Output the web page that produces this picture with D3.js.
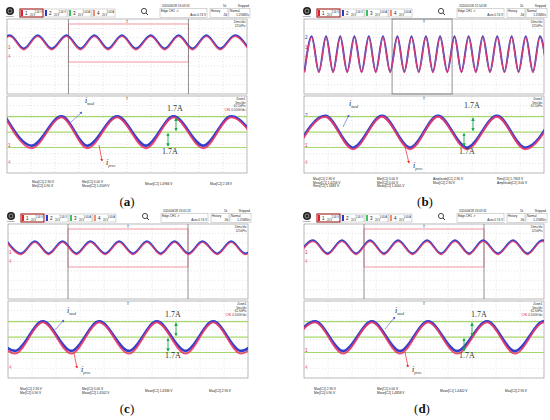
<!DOCTYPE html>
<html><head><meta charset="utf-8">
<script src="https://cdn.jsdelivr.net/npm/d3@7"></script>
<style>body{margin:0;background:#fff}svg{display:block}</style>
</head><body>
<svg id="chart" width="550" height="420"></svg>
<script>
// ---------------- DATA (time in divisions, 0..10) ----------------
const panelLetters = ["a", "b", "c", "d"];
const dateLabels = ["2020/06/28 19:03:53", "2020/01/09 21:54:58", "2020/06/28 19:02:23", "2020/06/28 19:03:32"];
const channelLabels = ["2.00 V", "2.00 V", "5.00 A", "5.00 A"];

// top (overview) window: times of peaks / troughs
const topPeaksA   = [0.12, 1.28, 2.48, 3.64, 4.79, 5.99, 7.15, 8.31, 9.50];
const topTroughsA = [-0.46, 0.70, 1.86, 3.06, 4.21, 5.37, 6.57, 7.73, 8.88, 10.07];
const topPeaksB   = [0.32, 0.92, 1.51, 2.10, 2.70, 3.29, 3.89, 4.48, 5.08, 5.67, 6.27, 6.86, 7.45, 8.05, 8.65, 9.24, 9.83];
const topTroughsB = [0.02, 0.62, 1.21, 1.80, 2.40, 2.99, 3.59, 4.18, 4.78, 5.37, 5.97, 6.56, 7.16, 7.75, 8.35, 8.94, 9.54, 10.13];
const topPeaksC   = [-0.05, 1.12, 2.27, 3.43, 4.63, 5.79, 6.94, 8.10, 9.30, 10.45];
const topTroughsC = [0.54, 1.69, 2.85, 4.05, 5.21, 6.36, 7.52, 8.72, 9.88];
const topPeaksD   = [0.38, 1.58, 2.75, 3.92, 5.13, 6.29, 7.46, 8.71, 9.92];
const topTroughsD = [-0.20, 0.98, 2.17, 3.33, 4.52, 5.71, 6.88, 8.08, 9.31, 10.50];
// top window levels in divisions: [peak, trough]
const topBlueA = [2.27, 0.86], topRedA = [2.15, 0.72];
const topBlueB = [2.16, -1.62], topRedB = [2.05, -1.72];
const topBlueC = [2.16, 0.86], topRedC = [2.05, 0.74];
const topBlueD = [2.27, 0.86], topRedD = [2.15, 0.74];

// bottom (zoom) window: times of peaks / troughs
const botPeaksA   = [-0.08, 2.27, 4.59, 6.94, 9.34];
const botTroughsA = [1.03, 3.35, 5.79, 8.18, 10.54];
const botPeaksB   = [0.88, 3.25, 5.58, 8.04, 10.40];
const botTroughsB = [-0.30, 2.04, 4.42, 6.79, 9.21];
const botPeaksC   = [-0.87, 1.45, 3.80, 6.20, 8.55, 10.90];
const botTroughsC = [0.29, 2.64, 5.04, 7.40, 9.71];
const botPeaksD   = [0.46, 2.83, 5.17, 7.63, 10.00];
const botTroughsD = [-0.71, 1.63, 4.00, 6.38, 8.79, 11.2];
// bottom window levels in amperes: [peak, trough]
const botBlueA = [1.72, -1.50], botRedA = [1.62, -1.78];
const botBlueB = [1.78, -1.72], botRedB = [1.68, -1.90];
const botBlueC = [1.72, -1.52], botRedC = [1.62, -1.82];
const botBlueD = [1.72, -1.55], botRedD = [1.62, -1.82];
const bandLevels = [1.7, 0, -1.7];
const bandLabel = "1.7A";

// measurement read-outs under each screen
const measA = [["Max[C1]  2.90 V", "Min[C2]  0.90 V"], ["Min[C1]  0.00 V", "Mean[C2]  1.4509 V"], ["Mean[C1]  1.4966 V"], ["Max[C2]  2.58 V"]];
const measB = [["Max[C1]  2.90 V", "Mean[C1]  1.4256 V", "Rms[C2]  1.5683 V"], ["Min[C1]  0.00 V", "Min[C2]  0.00 V", "Mean[C2]  1.4001 V"], ["Amplitude[C1]  2.90 V", "Max[C2]  2.90 V"], ["Rms[C1]  1.7303 V", "Amplitude[C2]  3.00 V"]];
const measC = [["Max[C1]  2.90 V", "Min[C2]  0.90 V"], ["Min[C1]  0.00 V", "Mean[C2]  1.4502 V"], ["Mean[C1]  1.4336 V"], ["Max[C2]  2.90 V"]];
const measD = [["Max[C1]  2.90 V", "Min[C2]  0.90 V"], ["Min[C1]  0.00 V", "Mean[C2]  1.4858 V"], ["Mean[C1]  1.4402 V"], ["Max[C2]  2.90 V"]];

// ---------------- LAYOUT ----------------
const svg = d3.select("#chart");
const W = 240, TOP_H = 75, BOT_Y = 77, SCR_H = 154;
const layout = [
  {ox: 7,   oy: 19,  zoom: [2.56, 7.56], zoomRect: true,  measX: [25, 75, 138, 203], measY: [164, 168], labelX: 127, labelY: 206,
   mod: [[85, 103], [82, 112], [70, 123]], pros: [[99, 145], [102, 161], [106, 165]], arr: [[176, 168]], t1: [175, 111], t2: [170, 154]},
  {ox: 304, oy: 19,  zoom: [3.67, 6.17], zoomRect: false, measX: [9, 73, 129, 193], measY: [161, 164.5, 168], labelX: 425, labelY: 206,
   mod: [[349, 106], [349, 115], [343, 127]], pros: [[405, 147], [409, 163], [413, 168]], arr: [[473, 464]], t1: [472, 108], t2: [467, 154]},
  {ox: 8,   oy: 224, zoom: [2.5, 7.5],  zoomRect: true,  measX: [12, 74, 137, 201], measY: [166, 170], labelX: 127, labelY: 413,
   mod: [[67, 313], [64, 320], [54, 331]], pros: [[74, 353], [77, 368], [81, 372]], arr: [[176, 168]], t1: [173, 317], t2: [173, 358]},
  {ox: 304, oy: 224, zoom: [2.5, 7.5],  zoomRect: true,  measX: [10, 73, 136, 201], measY: [166, 170], labelX: 422, labelY: 413,
   mod: [[395, 313], [395, 317], [385, 329]], pros: [[405, 352], [408, 367], [412, 372]], arr: [[472, 464]], t1: [479, 317], t2: [467, 358]}
];
const topData = [[topPeaksA, topTroughsA, topBlueA, topRedA], [topPeaksB, topTroughsB, topBlueB, topRedB],
                 [topPeaksC, topTroughsC, topBlueC, topRedC], [topPeaksD, topTroughsD, topBlueD, topRedD]];
const botData = [[botPeaksA, botTroughsA, botBlueA, botRedA], [botPeaksB, botTroughsB, botBlueB, botRedB],
                 [botPeaksC, botTroughsC, botBlueC, botRedC], [botPeaksD, botTroughsD, botBlueD, botRedD]];
const meas = [measA, measB, measC, measD];

const defs = svg.append("defs");
function marker(id, color) {
  defs.append("marker").attr("id", id).attr("viewBox", "0 0 10 10").attr("refX", 8).attr("refY", 5)
    .attr("markerWidth", 4).attr("markerHeight", 4).attr("orient", "auto-start-reverse")
    .append("path").attr("d", "M0,0L10,5L0,10z").attr("fill", color);
}
marker("ab", "#5060d0"); marker("ar", "#ee2020"); marker("ag", "#1aa84a");

const tiny = "Liberation Sans, Arial, sans-serif";
const serif = "Liberation Serif, Times New Roman, serif";

function extremes(peaks, troughs, lv) {
  return peaks.map(t => [t, lv[0]]).concat(troughs.map(t => [t, lv[1]])).sort((p, q) => p[0] - q[0]);
}

layout.forEach((L, i) => {
  const g = svg.append("g");
  const ox = L.ox, oy = L.oy;
  const x = d3.scaleLinear([0, 10], [ox, ox + W]);
  const yTop = d3.scaleLinear([-4, 4], [oy + TOP_H, oy]);
  const yBot = d3.scaleLinear([-4.5, 3.85], [oy + SCR_H, oy + BOT_Y + 1]);

  // ---- header ----
  g.append("circle").attr("cx", ox + 3).attr("cy", oy - 8).attr("r", 4).attr("fill", "#222");
  g.append("circle").attr("cx", ox + 3).attr("cy", oy - 8).attr("r", 2).attr("fill", "none").attr("stroke", "#ddd").attr("stroke-width", 0.6);
  g.append("text").attr("x", ox + 3).attr("y", oy - 2).attr("text-anchor", "middle").attr("font-size", 2.5).attr("font-family", tiny).attr("fill", "#333").text("RIGOL");
  const chCol = ["#e02030", "#2838c8", "#40c060", "#f09070"];
  for (let k = 0; k < 4; k++) {
    const bx = ox + 13 + k * 24;
    g.append("rect").attr("x", bx).attr("y", oy - 10).attr("width", 23).attr("height", 8)
      .attr("fill", "#fff").attr("stroke", k === 0 ? "#a01818" : "#aaa").attr("stroke-width", k === 0 ? 1.1 : 0.5);
    g.append("rect").attr("x", bx + 1).attr("y", oy - 9).attr("width", 2).attr("height", 6).attr("fill", chCol[k]);
    g.append("text").attr("x", bx + 5).attr("y", oy - 4).attr("font-size", 4.5).attr("font-family", tiny).attr("fill", "#222").text(k + 1);
    g.append("text").attr("x", bx + 22).attr("y", oy - 6.5).attr("text-anchor", "end").attr("font-size", 2.6).attr("font-family", tiny).attr("fill", "#222").text(channelLabels[k]);
    g.append("text").attr("x", bx + 10).attr("y", oy - 3.5).attr("font-size", 2.6).attr("font-family", tiny).attr("fill", "#222").text("20 V");
  }
  // magnifier
  g.append("circle").attr("cx", ox + 137).attr("cy", oy - 8).attr("r", 2.6).attr("fill", "none").attr("stroke", "#333").attr("stroke-width", 0.9);
  g.append("line").attr("x1", ox + 139).attr("y1", oy - 6).attr("x2", ox + 141).attr("y2", oy - 4).attr("stroke", "#333").attr("stroke-width", 1);
  // info block
  g.append("text").attr("x", ox + 155).attr("y", oy - 12).attr("font-size", 3).attr("font-family", tiny).attr("fill", "#222").text(dateLabels[i]);
  g.append("text").attr("x", ox + 216).attr("y", oy - 12).attr("font-size", 3).attr("font-family", tiny).attr("fill", "#222").text("5k");
  g.append("text").attr("x", ox + 242).attr("y", oy - 12).attr("text-anchor", "end").attr("font-size", 3).attr("font-family", tiny).attr("fill", "#222").text("Stopped");
  [[153, 47, "Edge CH1 \u2197", "Auto 0.74 V"], [203, 18, "History", "Zd"], [222, 21, "Normal", "1.25MS/s"]].forEach(b => {
    g.append("rect").attr("x", ox + b[0]).attr("y", oy - 10.5).attr("width", b[1]).attr("height", 9).attr("fill", "none").attr("stroke", "#999").attr("stroke-width", 0.4);
    g.append("text").attr("x", ox + b[0] + 1).attr("y", oy - 7).attr("font-size", 3).attr("font-family", tiny).attr("fill", "#222").text(b[2]);
    g.append("text").attr("x", ox + b[0] + b[1] - 1).attr("y", oy - 3).attr("text-anchor", "end").attr("font-size", 3).attr("font-family", tiny).attr("fill", "#222").text(b[3]);
  });

  // ---- windows ----
  const win = (y0, y1, cid) => {
    defs.append("clipPath").attr("id", cid).append("rect").attr("x", ox).attr("y", y0).attr("width", W).attr("height", y1 - y0);
    g.append("rect").attr("x", ox).attr("y", y0).attr("width", W).attr("height", y1 - y0).attr("fill", "#fff");
    const yg = d3.scaleLinear([0, 8], [y0, y1]);
    d3.range(1, 10).forEach(k => g.append("line").attr("x1", x(k)).attr("x2", x(k)).attr("y1", y0).attr("y2", y1)
      .attr("stroke", "#c8c8c8").attr("stroke-width", 0.5).attr("stroke-dasharray", "1,2"));
    d3.range(1, 8).forEach(k => g.append("line").attr("x1", ox).attr("x2", ox + W).attr("y1", yg(k)).attr("y2", yg(k))
      .attr("stroke", "#c8c8c8").attr("stroke-width", 0.5).attr("stroke-dasharray", "1,2"));
    g.append("rect").attr("x", ox).attr("y", y0).attr("width", W).attr("height", y1 - y0).attr("fill", "none").attr("stroke", "#9a9a9a").attr("stroke-width", 0.7);
  };
  win(oy, oy + TOP_H, "ct" + i);
  win(oy + BOT_Y, oy + SCR_H, "cb" + i);

  // zoom region in overview
  if (L.zoomRect) {
    g.append("rect").attr("x", x(L.zoom[0])).attr("y", oy + 5).attr("width", x(L.zoom[1]) - x(L.zoom[0])).attr("height", 38)
      .attr("fill", "none").attr("stroke", "#f07a8a").attr("stroke-width", 0.8);
    [L.zoom[0], L.zoom[1]].forEach(z => g.append("line").attr("x1", x(z)).attr("x2", x(z)).attr("y1", oy).attr("y2", oy + TOP_H)
      .attr("stroke", "#777").attr("stroke-width", 0.8));
  } else {
    g.append("rect").attr("x", x(L.zoom[0])).attr("y", oy).attr("width", x(L.zoom[1]) - x(L.zoom[0])).attr("height", TOP_H)
      .attr("fill", "none").attr("stroke", "#777").attr("stroke-width", 0.8);
  }
  // small texts in windows
  const tc = ox + W / 2;
  g.append("text").attr("x", tc).attr("y", oy + 3.5).attr("text-anchor", "middle").attr("font-size", 4).attr("font-family", tiny).attr("fill", "#333").text("T");
  g.append("text").attr("x", tc).attr("y", oy + BOT_Y + 3.5).attr("text-anchor", "middle").attr("font-size", 4).attr("font-family", tiny).attr("fill", "#333").text("T");
  ["10ms/div", "125kPts"].forEach((s, k) => g.append("text").attr("x", ox + W - 1.5).attr("y", oy + 4 + k * 3.6)
    .attr("text-anchor", "end").attr("font-size", 3).attr("font-family", tiny).attr("fill", "#333").text(s));
  ["Zoom1", "5ms/div", "62.5kPts"].forEach((s, k) => g.append("text").attr("x", ox + W - 1.5).attr("y", oy + BOT_Y + 4 + k * 3.6)
    .attr("text-anchor", "end").attr("font-size", 3).attr("font-family", tiny).attr("fill", "#333").text(s));
  if (i !== 1) {
    const t = g.append("text").attr("x", ox + W - 1.5).attr("y", oy + BOT_Y + 4 + 3 * 3.6).attr("text-anchor", "end").attr("font-size", 3).attr("font-family", tiny).attr("fill", "#333");
    t.append("tspan").attr("fill", "#e02030").text("CH1 ");
    t.text(null); t.append("tspan").attr("fill", "#e02030").text("CH1 "); t.append("tspan").text("0.500V/div");
  }
  // channel markers on left edge
  [[oy + 30, "1", "#e02030"], [oy + 39, "4", "#f07080"], [oy + 128, "1", "#e02030"], [oy + 145, "4", "#f07080"]].forEach(m =>
    g.append("text").attr("x", ox + 1).attr("y", m[0]).attr("font-size", 4.5).attr("font-family", tiny).attr("fill", m[2]).text(m[1]));
  if (i === 1) {
    [[oy + 20, "2"], [oy + 98, "2"]].forEach(m => g.append("text").attr("x", ox + 1).attr("y", m[0]).attr("font-size", 4.5).attr("font-family", tiny).attr("fill", "#2838c8").text(m[1]));
  }

  // ---- traces ----
  const [tp, tt, tb, tr] = topData[i];
  const lineTop = d3.line().x(d => x(d[0])).y(d => yTop(d[1])).curve(d3.curveMonotoneX);
  const gt = g.append("g").attr("clip-path", `url(#ct${i})`);
  gt.append("path").attr("d", lineTop(extremes(tp, tt, tb))).attr("fill", "none").attr("stroke", "#3444c8").attr("stroke-width", 1.9);
  gt.append("path").attr("d", lineTop(extremes(tp, tt, tr))).attr("fill", "none").attr("stroke", "#ec3c6a").attr("stroke-width", 1.3).attr("opacity", 0.9);

  // bands in bottom window
  bandLevels.forEach(v => g.append("line").attr("x1", ox).attr("x2", ox + W).attr("y1", yBot(v)).attr("y2", yBot(v))
    .attr("stroke", "#a6d86e").attr("stroke-width", 1.2));

  const [bp, bt, bb, br] = botData[i];
  const lineBot = d3.line().x(d => x(d[0])).y(d => yBot(d[1])).curve(d3.curveMonotoneX);
  const gb = g.append("g").attr("clip-path", `url(#cb${i})`);
  gb.append("path").attr("d", lineBot(extremes(bp, bt, bb))).attr("fill", "none").attr("stroke", "#3040cc").attr("stroke-width", 2.6);
  gb.append("path").attr("d", lineBot(extremes(bp, bt, br))).attr("fill", "none").attr("stroke", "#f0386a").attr("stroke-width", 1.8).attr("opacity", 0.9);

  // ---- annotations ----
  // 1.7A double arrows
  const ax1 = L.arr[0][0], ax2 = L.arr[0][1];
  g.append("line").attr("x1", ax1).attr("x2", ax1).attr("y1", yBot(1.7) + 1.5).attr("y2", yBot(0) - 1.5)
    .attr("stroke", "#1aa84a").attr("stroke-width", 0.9).attr("marker-start", "url(#ag)").attr("marker-end", "url(#ag)");
  g.append("line").attr("x1", ax2).attr("x2", ax2).attr("y1", yBot(0) + 1.5).attr("y2", yBot(-1.7) - 1.5)
    .attr("stroke", "#1aa84a").attr("stroke-width", 0.9).attr("marker-start", "url(#ag)").attr("marker-end", "url(#ag)");
  g.append("text").attr("x", L.t1[0]).attr("y", L.t1[1]).attr("text-anchor", "middle").attr("font-size", 8).attr("font-family", serif).attr("fill", "#333").text(bandLabel);
  g.append("text").attr("x", L.t2[0]).attr("y", L.t2[1]).attr("text-anchor", "middle").attr("font-size", 8).attr("font-family", serif).attr("fill", "#333").text(bandLabel);

  // i_mod label with blue arrow
  const lm = g.append("text").attr("x", L.mod[0][0]).attr("y", L.mod[0][1]).attr("font-family", serif).attr("fill", "#222");
  lm.append("tspan").attr("font-size", 8).attr("font-style", "italic").text("i");
  lm.append("tspan").attr("font-size", 4).attr("font-style", "italic").attr("dy", 1.5).text("mod");
  g.append("line").attr("x1", L.mod[2][0]).attr("y1", L.mod[2][1]).attr("x2", L.mod[1][0]).attr("y2", L.mod[1][1])
    .attr("stroke", "#6070d0").attr("stroke-width", 0.7).attr("marker-end", "url(#ab)");
  // i_pros label with red arrow
  g.append("line").attr("x1", L.pros[0][0]).attr("y1", L.pros[0][1]).attr("x2", L.pros[1][0]).attr("y2", L.pros[1][1])
    .attr("stroke", "#ee2020").attr("stroke-width", 0.7).attr("marker-end", "url(#ar)");
  const lp = g.append("text").attr("x", L.pros[2][0]).attr("y", L.pros[2][1]).attr("font-family", serif).attr("fill", "#222");
  lp.append("tspan").attr("font-size", 8).attr("font-style", "italic").text("i");
  lp.append("tspan").attr("font-size", 4).attr("font-style", "italic").attr("dy", 1.5).text("pros");

  // ---- measurements ----
  meas[i].forEach((grp, k) => grp.forEach((s, r) => g.append("text").attr("x", ox + L.measX[k]).attr("y", oy + L.measY[r + (grp.length === 1 && L.measY.length === 2 ? 0.5 : 0)] || oy + L.measY[0] + 2)
    .attr("font-size", 3.2).attr("font-family", tiny).attr("fill", "#222").text(s)));

  // ---- panel label ----
  const lab = g.append("text").attr("x", L.labelX).attr("y", L.labelY).attr("text-anchor", "middle").attr("font-size", 13).attr("font-family", serif).attr("fill", "#111");
  lab.append("tspan").text("(");
  lab.append("tspan").attr("font-weight", "bold").text(panelLetters[i]);
  lab.append("tspan").text(")");
});
</script>
</body></html>
